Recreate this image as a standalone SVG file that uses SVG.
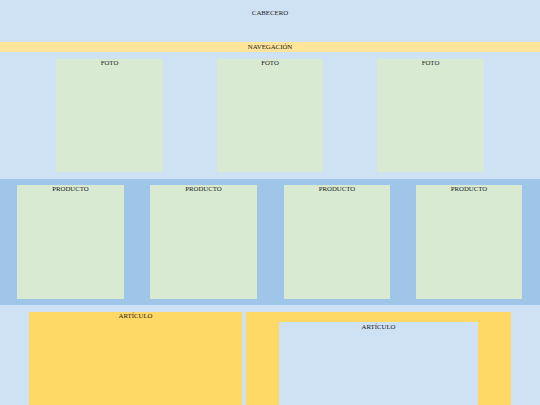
<svg xmlns="http://www.w3.org/2000/svg" width="540" height="405" viewBox="0 0 540 405">
<style>
text{font-family:"Liberation Serif","Times New Roman",serif;font-size:6.8px;fill:#1a1a1a;text-anchor:middle}
.foto,.prod{fill:#d9ead3}
</style>
<rect id="fondo" x="0" y="0" width="540" height="405" fill="#cfe2f3"/>
<g id="cabecero"><text x="270" y="14.5">CABECERO</text></g>
<g id="navegacion"><rect x="0" y="42" width="540" height="10" fill="#ffe599"/><text x="270" y="48.5">NAVEGACIÓN</text></g>
<g id="foto1"><rect class="foto" x="56" y="59" width="107" height="113"/><text x="109.5" y="65">FOTO</text></g>
<g id="foto2"><rect class="foto" x="217" y="59" width="106" height="113"/><text x="270" y="65">FOTO</text></g>
<g id="foto3"><rect class="foto" x="377" y="59" width="107" height="113"/><text x="430.5" y="65">FOTO</text></g>
<rect id="banda" x="0" y="179" width="540" height="126" fill="#9fc5e8"/>
<g id="prod1"><rect class="prod" x="17" y="185" width="107" height="114"/><text x="70.5" y="191">PRODUCTO</text></g>
<g id="prod2"><rect class="prod" x="150" y="185" width="107" height="114"/><text x="203.5" y="191">PRODUCTO</text></g>
<g id="prod3"><rect class="prod" x="284" y="185" width="106" height="114"/><text x="337" y="191">PRODUCTO</text></g>
<g id="prod4"><rect class="prod" x="416" y="185" width="106" height="114"/><text x="469" y="191">PRODUCTO</text></g>
<g id="articulo1"><rect x="29" y="312" width="213" height="93" fill="#ffd966"/><text x="135.5" y="318">ARTÍCULO</text></g>
<g id="articulo2"><rect x="246" y="312" width="265" height="93" fill="#ffd966"/><rect x="279" y="322" width="199" height="83" fill="#cfe2f3"/><text x="378.5" y="328.5">ARTÍCULO</text></g>
<g id="connectors"/>
</svg>
